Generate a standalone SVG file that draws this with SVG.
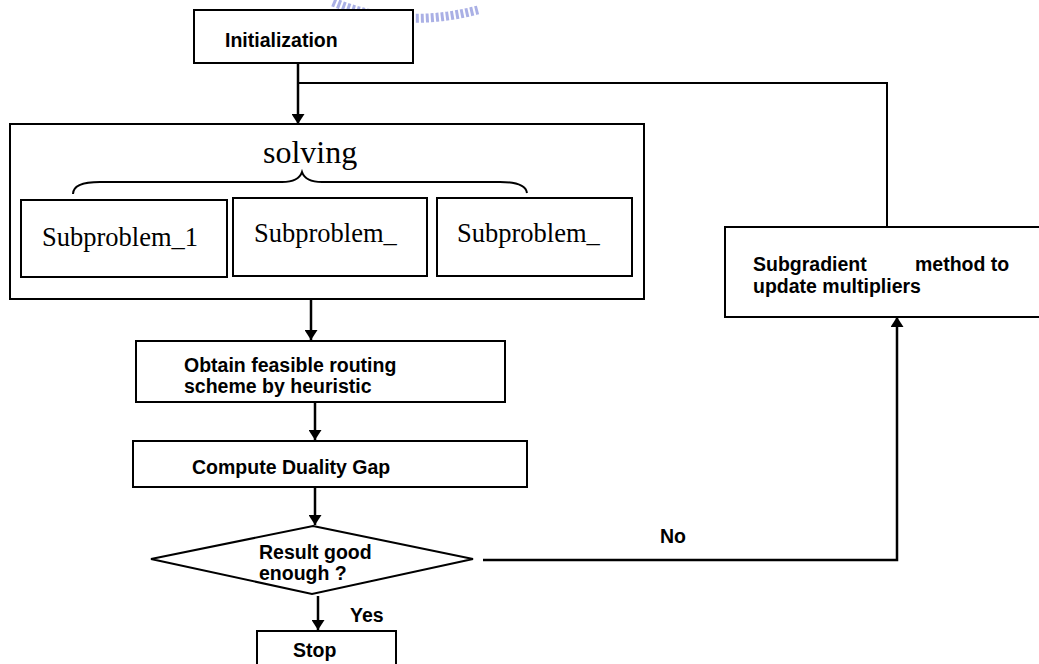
<svg xmlns="http://www.w3.org/2000/svg" width="1039" height="664" viewBox="0 0 1039 664">
  <style>
    .box { fill: #ffffff; stroke: #000000; stroke-width: 2; }
    .line { fill: none; stroke: #000000; stroke-width: 2.5; }
    .thin { fill: none; stroke: #000000; stroke-width: 2; }
    .sans { font-family: "Liberation Sans", Arial, sans-serif; font-size: 19.5px; font-weight: bold; fill: #000000; }
    .serif { font-family: "Liberation Serif", "Times New Roman", serif; fill: #000000; }
  </style>
  <defs>
    <marker id="arrow" markerUnits="userSpaceOnUse" markerWidth="10" markerHeight="13" viewBox="0 0 10 13" refX="10" refY="6.5" orient="auto">
      <path d="M0,0 L10,6.5 L0,13 Z" fill="#000000"/>
    </marker>
  </defs>
  <rect width="1039" height="664" fill="#ffffff"/>

  <!-- faint seal mark along the top edge -->
  <g id="seal" fill="none" stroke="#8e95dc" stroke-opacity="0.75">
    <path d="M333,2 Q400,30 478,10" stroke-width="9" stroke-dasharray="3 2"/>
  </g>

  <!-- connectors -->
  <g id="connectors">
    <line class="line" x1="298" y1="63" x2="298" y2="124" marker-end="url(#arrow)"/>
    <polyline class="thin" points="887,227 887,83 298,83"/>
    <line class="line" x1="311" y1="299" x2="311" y2="340" marker-end="url(#arrow)"/>
    <line class="line" x1="315" y1="402" x2="315" y2="440" marker-end="url(#arrow)"/>
    <line class="line" x1="315" y1="487" x2="315" y2="525" marker-end="url(#arrow)"/>
    <line class="line" x1="318" y1="596" x2="318" y2="630" marker-end="url(#arrow)"/>
    <polyline class="line" points="483,560 897,560 897,317" marker-end="url(#arrow)"/>
    <text class="sans" x="660" y="543">No</text>
    <text class="sans" x="350" y="622">Yes</text>
  </g>

  <g id="init">
    <rect class="box" x="194" y="10" width="219" height="53"/>
    <text class="sans" x="225" y="47">Initialization</text>
  </g>

  <g id="solving">
    <rect class="box" x="10" y="124" width="634" height="175"/>
    <text class="serif" x="263" y="163" font-size="32">solving</text>
    <path class="thin" d="M73,194 C73,186 82,182 100,182 L282,182 C294,182 300,178 302,172 C304,178 310,182 322,182 L500,182 C518,182 526,186 527,193"/>
  </g>

  <g id="sub1">
    <rect class="box" x="21" y="200" width="206" height="77"/>
    <text class="serif" x="42" y="246" font-size="26.5">Subproblem_1</text>
  </g>
  <g id="sub2">
    <rect class="box" x="233" y="198" width="194" height="78"/>
    <text class="serif" x="254" y="242" font-size="26.5">Subproblem_</text>
  </g>
  <g id="sub3">
    <rect class="box" x="437" y="198" width="195" height="78"/>
    <text class="serif" x="457" y="242" font-size="26.5">Subproblem_</text>
  </g>

  <g id="subgradient">
    <rect class="box" x="725" y="227" width="320" height="90"/>
    <text class="sans" x="753" y="271">Subgradient</text>
    <text class="sans" x="915" y="271">method to</text>
    <text class="sans" x="753" y="293">update multipliers</text>
  </g>

  <g id="heuristic">
    <rect class="box" x="136" y="341" width="369" height="61"/>
    <text class="sans" x="184" y="372">Obtain feasible routing</text>
    <text class="sans" x="184" y="393">scheme by heuristic</text>
  </g>

  <g id="gap">
    <rect class="box" x="133" y="441" width="394" height="46"/>
    <text class="sans" x="192" y="474">Compute Duality Gap</text>
  </g>

  <g id="decision">
    <polygon class="box" points="313,526 473,559 312,594 151,559"/>
    <text class="sans" x="259" y="559">Result good</text>
    <text class="sans" x="259" y="580">enough ?</text>
  </g>

  <g id="stop">
    <rect class="box" x="257" y="631" width="139" height="40"/>
    <text class="sans" x="293" y="657">Stop</text>
  </g>
</svg>
